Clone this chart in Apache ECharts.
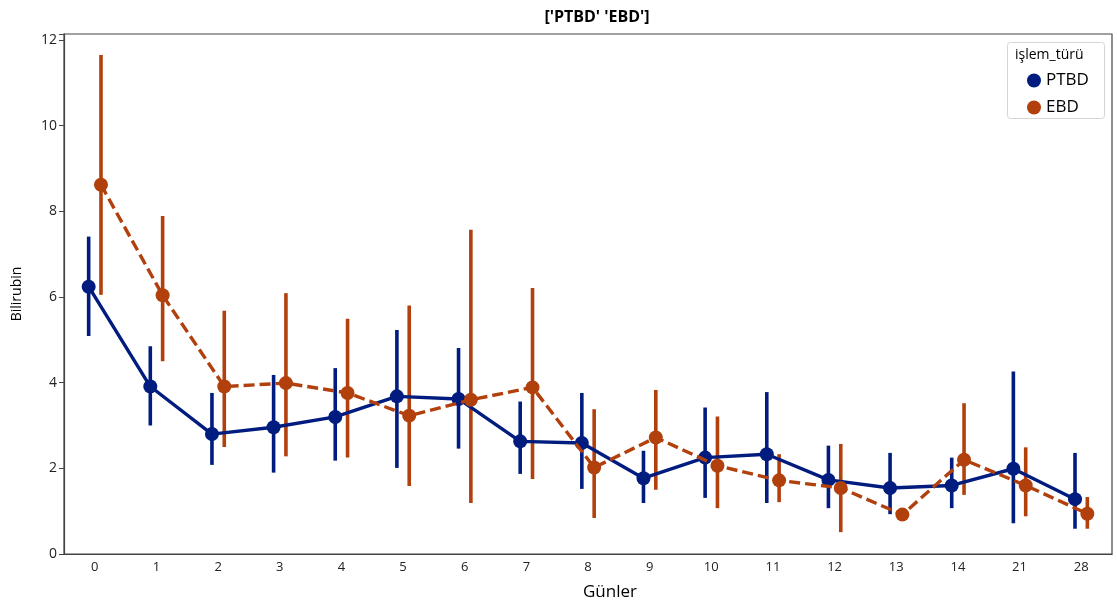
<!DOCTYPE html>
<html>
<head>
<meta charset="utf-8">
<script src="https://cdn.jsdelivr.net/npm/echarts@6/dist/echarts.min.js"></script>
<style>
html,body{margin:0;padding:0;background:#fff;}
#chart{width:1117px;height:610px;}
</style>
</head>
<body>
<div id="chart"></div>
<script>
const categories = ['0','1','2','3','4','5','6','7','8','9','10','11','12','13','14','21','28'];
const yTicks = [0, 2, 4, 6, 8, 10, 12];

const ptbdMean = [6.24, 3.91, 2.80, 2.96, 3.20, 3.68, 3.62, 2.63, 2.59, 1.77, 2.25, 2.33, 1.73, 1.54, 1.60, 1.99, 1.28];
const ptbdLow  = [5.09, 3.00, 2.08, 1.90, 2.18, 2.01, 2.46, 1.87, 1.52, 1.19, 1.31, 1.19, 1.07, 0.93, 1.07, 0.72, 0.59];
const ptbdHigh = [7.41, 4.85, 3.76, 4.18, 4.34, 5.23, 4.81, 3.56, 3.76, 2.41, 3.42, 3.78, 2.53, 2.36, 2.25, 4.26, 2.36];

const ebdMean = [8.62, 6.04, 3.91, 3.99, 3.76, 3.23, 3.60, 3.89, 2.02, 2.72, 2.06, 1.72, 1.54, 0.92, 2.20, 1.60, 0.94];
const ebdLow  = [6.05, 4.50, 2.50, 2.28, 2.25, 1.59, 1.19, 1.75, 0.84, 1.50, 1.07, 1.21, 0.51, 0.88, 1.38, 0.88, 0.59];
const ebdHigh = [11.65, 7.89, 5.68, 6.09, 5.49, 5.80, 7.57, 6.21, 3.38, 3.83, 3.21, 2.33, 2.57, 0.96, 3.52, 2.49, 1.33];

const seriesNames = ['PTBD', 'EBD'];
const legendTitle = 'işlem_türü';
const chartTitle = "['PTBD' 'EBD']";
const xName = 'Günler';
const yName = 'Bilirubin';

const colors = ['#001c7f', '#b1400d'];
const offsets = [-0.1, 0.1];
const FONT = '"Open Sans", "Noto Sans", sans-serif';

function pts(mean, off) { return mean.map((v, i) => [i + off, v]); }
function errs(lo, hi, off) { return lo.map((v, i) => [i + off, v, hi[i]]); }

function errSeries(name, lo, hi, off, color) {
  return {
    name: name,
    type: 'custom',
    xAxisIndex: 1,
    z: 2,
    silent: true,
    data: errs(lo, hi, off),
    encode: { x: 0, y: [1, 2] },
    renderItem: function (params, api) {
      const p1 = api.coord([api.value(0), api.value(1)]);
      const p2 = api.coord([api.value(0), api.value(2)]);
      return {
        type: 'line',
        shape: { x1: p1[0], y1: p1[1], x2: p2[0], y2: p2[1] },
        style: { stroke: color, lineWidth: 3.6 }
      };
    }
  };
}

const chart = echarts.init(document.getElementById('chart'), null, { renderer: 'canvas' });
chart.setOption({
  animation: false,
  backgroundColor: '#fff',
  textStyle: { fontFamily: FONT },
  title: {
    text: chartTitle,
    left: 592,
    top: 4,
    textAlign: 'center',
    textStyle: { fontSize: 16, fontWeight: 'bold', color: '#000', fontFamily: FONT }
  },
  grid: { left: 64, right: 5, top: 34, bottom: 56, show: true, borderColor: '#444', borderWidth: 1.2, backgroundColor: 'transparent' },
  legend: {
    orient: 'vertical',
    left: 1022,
    top: 67,
    z: 20,
    itemWidth: 14,
    itemHeight: 14,
    itemGap: 10,
    icon: 'circle',
    data: seriesNames.map((n, i) => ({ name: n, itemStyle: { color: colors[i] } })),
    textStyle: { fontSize: 17, color: '#000', fontFamily: FONT },
    selectedMode: false
  },
  graphic: [
    { type: 'rect', left: 1007, top: 42, z: 1, shape: { width: 97, height: 76, r: 3 }, style: { fill: '#fff', stroke: '#d5d5d5', lineWidth: 1 } },
    { type: 'text', left: 1015, top: 48, z: 21, style: { text: legendTitle, fontSize: 14, fill: '#000', fontFamily: FONT } }
  ],
  xAxis: [
    {
      type: 'category',
      data: categories,
      boundaryGap: true,
      name: xName,
      nameLocation: 'middle',
      nameGap: 30,
      nameTextStyle: { fontSize: 17, color: '#000', fontFamily: FONT, padding: [0, 0, 0, 44] },
      axisLine: { lineStyle: { color: '#444', width: 1.2 } },
      axisTick: { alignWithLabel: true, length: 5, lineStyle: { color: '#444' } },
      axisLabel: { fontSize: 13, color: '#222', margin: 7, fontFamily: FONT },
      splitLine: { show: false }
    },
    {
      type: 'value',
      min: -0.5,
      max: 16.5,
      show: false,
      splitLine: { show: false }
    }
  ],
  yAxis: {
    type: 'value',
    min: 0,
    max: 12.14,
    interval: 2,
    name: yName,
    nameLocation: 'middle',
    nameGap: 40,
    nameTextStyle: { fontSize: 14, color: '#000', fontFamily: FONT },
    axisLine: { show: true, onZero: false, lineStyle: { color: '#444', width: 1.2 } },
    axisTick: { show: true, length: 5, lineStyle: { color: '#444' } },
    axisLabel: { fontSize: 14, color: '#222', margin: 7, fontFamily: FONT,
      formatter: function (v) { return yTicks.indexOf(v) >= 0 ? String(v) : ''; } },
    splitLine: { show: false }
  },
  series: [
    errSeries('PTBD_err', ptbdLow, ptbdHigh, offsets[0], colors[0]),
    {
      name: seriesNames[0],
      type: 'line',
      xAxisIndex: 1,
      z: 3,
      data: pts(ptbdMean, offsets[0]),
      symbol: 'circle',
      symbolSize: 14,
      showAllSymbol: true,
      itemStyle: { color: colors[0] },
      lineStyle: { color: colors[0], width: 3.4 }
    },
    errSeries('EBD_err', ebdLow, ebdHigh, offsets[1], colors[1]),
    {
      name: seriesNames[1],
      type: 'line',
      xAxisIndex: 1,
      z: 4,
      data: pts(ebdMean, offsets[1]),
      symbol: 'circle',
      symbolSize: 14,
      showAllSymbol: true,
      itemStyle: { color: colors[1] },
      lineStyle: { color: colors[1], width: 3.4, type: [11, 5] }
    }
  ]
});
</script>
</body>
</html>
